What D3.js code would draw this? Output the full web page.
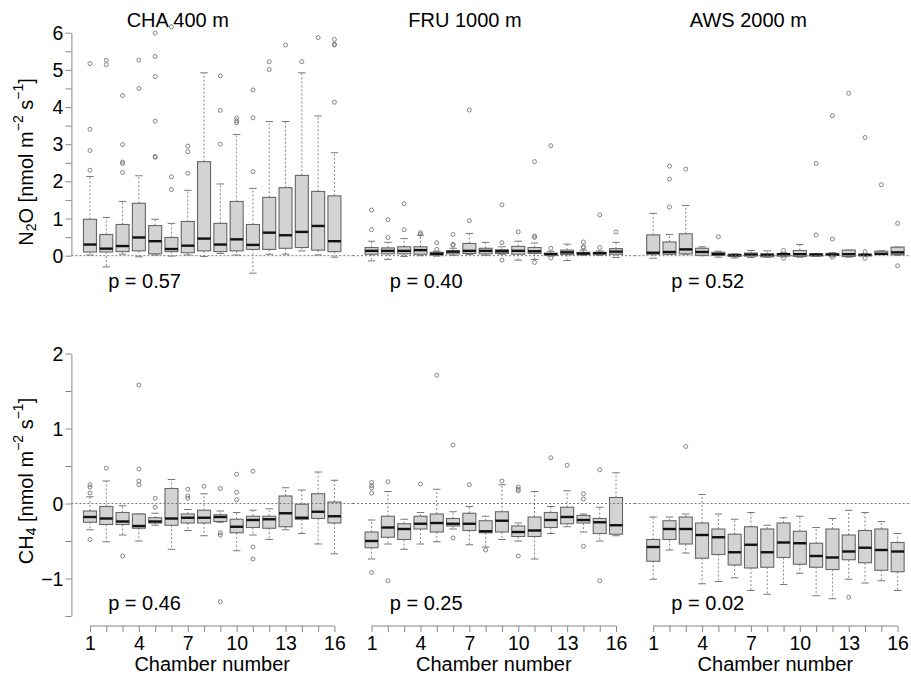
<!DOCTYPE html>
<html>
<head>
<meta charset="utf-8">
<script src="https://cdn.jsdelivr.net/npm/d3@7"></script>
<style>
  body { margin: 0; background: #fff; }
  text { font-family: "Liberation Sans", Arial, sans-serif; }
</style>
</head>
<body>
<svg id="chart"></svg>
<script>
// chamber numbers and labels
const chambers = d3.range(1, 17);
const xTickLabels = [1, 4, 7, 10, 13, 16];
const sites = ["CHA 400 m", "FRU 1000 m", "AWS 2000 m"];
const pN2O = ["p = 0.57", "p = 0.40", "p = 0.52"];
const pCH4 = ["p = 0.46", "p = 0.25", "p = 0.02"];
const n2oTicks = d3.range(0, 6.01, 0.5);
const ch4Ticks = d3.range(-1.5, 2.01, 0.5);

// box stats per chamber: [lower whisker, q1, median, q3, upper whisker]
const chaN2O = [
  [0.02, 0.10, 0.30, 0.98, 2.13], [-0.30, 0.10, 0.19, 0.57, 1.03], [0.04, 0.11, 0.26, 0.84, 1.46],
  [-0.03, 0.13, 0.49, 1.41, 2.15], [0.02, 0.05, 0.39, 0.81, 0.98], [-0.01, 0.11, 0.18, 0.49, 0.87],
  [0.02, 0.08, 0.27, 0.92, 1.76], [-0.02, 0.13, 0.46, 2.53, 4.92], [0.06, 0.11, 0.30, 0.87, 1.93],
  [0.02, 0.13, 0.44, 1.46, 3.26], [-0.47, 0.17, 0.29, 0.84, 1.81], [0.04, 0.17, 0.62, 1.57, 3.61],
  [0.04, 0.20, 0.55, 1.83, 3.61], [0.13, 0.22, 0.64, 2.16, 4.92], [0.02, 0.15, 0.80, 1.73, 3.76],
  [-0.04, 0.11, 0.39, 1.61, 2.77]
];
const chaN2OOut = [
  [2.30, 2.83, 3.40, 5.17], [5.14, 5.26], [2.24, 2.48, 2.52, 2.99, 4.31], [4.50, 5.26],
  [2.65, 2.67, 3.62, 4.82, 5.36, 5.99], [1.78, 2.12, 6.16], [2.22, 2.80, 2.95], [],
  [3.00, 3.91, 4.84], [3.58, 3.63, 3.70], [2.26, 3.71, 4.46], [5.01, 5.22],
  [5.67], [5.22], [5.87], [4.13, 5.67, 5.69, 5.82]
];

const fruN2O = [
  [-0.14, 0.04, 0.13, 0.22, 0.39], [-0.10, 0.05, 0.13, 0.21, 0.36], [-0.02, 0.05, 0.13, 0.24, 0.46],
  [0.00, 0.04, 0.15, 0.24, 0.55], [-0.01, 0.02, 0.05, 0.09, 0.12], [0.01, 0.05, 0.11, 0.13, 0.20],
  [0.03, 0.06, 0.13, 0.33, 0.60], [0.01, 0.05, 0.13, 0.20, 0.36], [0.04, 0.06, 0.12, 0.16, 0.24],
  [-0.12, 0.04, 0.13, 0.25, 0.39], [-0.10, 0.06, 0.12, 0.22, 0.34], [-0.01, 0.02, 0.04, 0.07, 0.12],
  [-0.13, 0.03, 0.09, 0.15, 0.31], [0.01, 0.03, 0.06, 0.09, 0.15], [0.01, 0.04, 0.07, 0.09, 0.13],
  [-0.05, 0.04, 0.11, 0.19, 0.36]
];
const fruN2OOut = [
  [0.70, 1.23], [0.49, 0.97], [0.70, 1.40], [0.58, 0.62], [0.17, 0.35], [0.28, 0.31, 0.57],
  [0.94, 3.92], [], [-0.12, 0.35, 1.37], [0.64], [-0.18, 0.49, 0.53, 2.53], [-0.06, 0.20, 2.96],
  [], [0.22, 0.24, 0.37], [0.22, 1.10], [0.64]
];

const awsN2O = [
  [-0.07, 0.04, 0.08, 0.56, 1.14], [0.04, 0.04, 0.10, 0.37, 0.57], [0.04, 0.05, 0.17, 0.59, 1.35],
  [0.00, 0.01, 0.10, 0.20, 0.24], [-0.04, 0.01, 0.04, 0.09, 0.12], [-0.06, -0.01, 0.01, 0.04, 0.05],
  [-0.05, -0.01, 0.03, 0.07, 0.14], [-0.04, -0.03, 0.02, 0.05, 0.13], [-0.03, -0.01, 0.04, 0.05, 0.08],
  [-0.04, -0.02, 0.04, 0.14, 0.30], [-0.02, -0.01, 0.03, 0.05, 0.06], [-0.03, 0.01, 0.03, 0.06, 0.08],
  [-0.04, -0.02, 0.04, 0.15, 0.15], [0.00, 0.00, 0.02, 0.04, 0.06], [0.03, 0.04, 0.05, 0.12, 0.13],
  [0.01, 0.03, 0.09, 0.23, 0.23]
];
const awsN2OOut = [
  [], [1.31, 2.06, 2.41], [2.33], [], [0.51], [], [], [], [-0.07, 0.14], [],
  [0.56, 2.48], [-0.04, 0.45, 3.77], [4.37], [-0.07, 0.11, 3.18], [1.91], [-0.27, 0.87]
];

const chaCH4 = [
  [-0.35, -0.25, -0.18, -0.10, 0.09], [-0.51, -0.28, -0.20, -0.04, 0.30], [-0.42, -0.28, -0.24, -0.12, -0.03],
  [-0.50, -0.33, -0.30, -0.14, -0.14], [-0.29, -0.26, -0.24, -0.19, -0.13], [-0.61, -0.29, -0.20, 0.20, 0.32],
  [-0.36, -0.26, -0.19, -0.14, -0.08], [-0.43, -0.26, -0.19, -0.09, 0.13], [-0.25, -0.24, -0.18, -0.15, -0.10],
  [-0.63, -0.39, -0.31, -0.21, -0.12], [-0.42, -0.32, -0.22, -0.17, -0.09], [-0.48, -0.33, -0.21, -0.17, -0.07],
  [-0.35, -0.31, -0.13, 0.10, 0.21], [-0.40, -0.21, -0.19, -0.01, 0.18], [-0.54, -0.20, -0.11, 0.13, 0.42],
  [-0.67, -0.26, -0.17, 0.02, 0.31]
];
const chaCH4Out = [
  [-0.48, 0.14, 0.22, 0.25], [0.47], [-0.70], [0.25, 0.30, 0.46, 1.58], [-0.05, 0.07], [],
  [0.07, 0.10, 0.19], [0.23], [-1.31, -0.42, -0.39, 0.20], [0.05, 0.15, 0.39],
  [-0.74, -0.58, 0.43], [], [], [], [], []
];

const fruCH4 = [
  [-0.74, -0.59, -0.50, -0.38, -0.22], [-0.54, -0.45, -0.32, -0.17, 0.16], [-0.61, -0.48, -0.34, -0.27, -0.21],
  [-0.54, -0.34, -0.27, -0.17, -0.12], [-0.51, -0.38, -0.26, -0.14, 0.19], [-0.34, -0.30, -0.27, -0.20, -0.11],
  [-0.55, -0.36, -0.27, -0.13, -0.04], [-0.58, -0.39, -0.37, -0.23, -0.17], [-0.48, -0.38, -0.23, -0.11, 0.25],
  [-0.50, -0.44, -0.38, -0.30, -0.26], [-0.74, -0.44, -0.36, -0.18, 0.16], [-0.40, -0.32, -0.22, -0.12, -0.04],
  [-0.31, -0.27, -0.18, -0.05, 0.17], [-0.38, -0.26, -0.22, -0.16, -0.14], [-0.50, -0.40, -0.25, -0.20, -0.05],
  [-0.43, -0.41, -0.29, 0.08, 0.41]
];
const fruCH4Out = [
  [-0.92, 0.14, 0.21, 0.24, 0.28], [-1.03, 0.29], [], [0.26], [1.71], [-0.46, 0.78], [0.25], [-0.62],
  [0.30], [-0.70, 0.17, 0.19, 0.22], [], [0.61], [0.51], [-0.57, 0.06, 0.13], [-1.03, 0.45], []
];

const awsCH4 = [
  [-1.01, -0.77, -0.58, -0.48, -0.18], [-0.62, -0.48, -0.34, -0.23, -0.18], [-0.66, -0.54, -0.34, -0.18, -0.14],
  [-1.07, -0.73, -0.42, -0.26, 0.12], [-1.04, -0.68, -0.45, -0.34, -0.14], [-0.99, -0.82, -0.65, -0.41, -0.21],
  [-1.16, -0.86, -0.55, -0.31, -0.12], [-1.21, -0.85, -0.65, -0.34, -0.29], [-1.08, -0.72, -0.52, -0.26, -0.19],
  [-0.93, -0.81, -0.53, -0.37, -0.17], [-1.23, -0.85, -0.70, -0.53, -0.32], [-1.27, -0.88, -0.72, -0.34, -0.20],
  [-1.01, -0.75, -0.64, -0.42, -0.09], [-1.06, -0.79, -0.59, -0.36, -0.12], [-1.03, -0.89, -0.62, -0.34, -0.24],
  [-1.16, -0.91, -0.64, -0.52, -0.40]
];
const awsCH4Out = [
  [], [], [0.76], [], [], [], [], [], [], [], [], [], [-1.25], [], [], []
];

const WIDTH = 911, HEIGHT = 674;
const panelLeft = [71.4, 353, 634.6];
const panelW = 281.6;
const FONT = "'Liberation Sans', Arial, sans-serif";

const svg = d3.select("#chart").attr("width", WIDTH).attr("height", HEIGHT);

const rows = [
  { boxes: [chaN2O, fruN2O, awsN2O], outs: [chaN2OOut, fruN2OOut, awsN2OOut], p: pN2O,
    y: d3.scaleLinear().domain([0, 6]).range([255.7, 32.7]), ticks: n2oTicks,
    pY: -0.69, labelY: 162, gas: "N", sub: "2", gas2: "O", xAxis: false },
  { boxes: [chaCH4, fruCH4, awsCH4], outs: [chaCH4Out, fruCH4Out, awsCH4Out], p: pCH4,
    y: d3.scaleLinear().domain([-1.5, 2]).range([616, 353.5]), ticks: ch4Ticks,
    pY: -1.33, labelY: 481, gas: "CH", sub: "4", gas2: "", xAxis: true }
];

const boxW = 13, capW = 7.5;

rows.forEach((row, r) => {
  const y = row.y;
  sites.forEach((site, c) => {
    const x = d3.scaleLinear().domain([-0.14, 17.14]).range([panelLeft[c], panelLeft[c] + panelW]);
    const g = svg.append("g");

    const box = g.selectAll("g.box")
      .data(row.boxes[c].map((s, i) => ({ ch: chambers[i], s, out: row.outs[c][i] })))
      .join("g").attr("class", "box");

    // whiskers
    box.append("line")
      .attr("x1", d => x(d.ch)).attr("x2", d => x(d.ch))
      .attr("y1", d => y(d.s[3])).attr("y2", d => y(d.s[4]))
      .attr("stroke", "#888").attr("stroke-dasharray", "2,2");
    box.append("line")
      .attr("x1", d => x(d.ch)).attr("x2", d => x(d.ch))
      .attr("y1", d => y(d.s[1])).attr("y2", d => y(d.s[0]))
      .attr("stroke", "#888").attr("stroke-dasharray", "2,2");
    // caps
    [0, 4].forEach(k => {
      box.append("line")
        .attr("x1", d => x(d.ch) - capW / 2).attr("x2", d => x(d.ch) + capW / 2)
        .attr("y1", d => y(d.s[k])).attr("y2", d => y(d.s[k]))
        .attr("stroke", "#777");
    });
    // box
    box.append("rect")
      .attr("x", d => x(d.ch) - boxW / 2).attr("width", boxW)
      .attr("y", d => y(d.s[3])).attr("height", d => Math.max(0.5, y(d.s[1]) - y(d.s[3])))
      .attr("fill", "#d3d3d3").attr("stroke", "#666").attr("stroke-width", 1.1);
    // median
    box.append("line")
      .attr("x1", d => x(d.ch) - boxW / 2).attr("x2", d => x(d.ch) + boxW / 2)
      .attr("y1", d => y(d.s[2])).attr("y2", d => y(d.s[2]))
      .attr("stroke", "#111").attr("stroke-width", 2.4);
    // outliers
    box.selectAll("circle")
      .data(d => d.out.map(v => ({ ch: d.ch, v })))
      .join("circle")
      .attr("cx", d => x(d.ch)).attr("cy", d => y(d.v)).attr("r", 2)
      .attr("fill", "none").attr("stroke", "#777").attr("stroke-width", 0.9);

    // zero reference line
    g.append("line")
      .attr("x1", panelLeft[c]).attr("x2", Math.min(WIDTH, panelLeft[c] + panelW))
      .attr("y1", y(0)).attr("y2", y(0))
      .attr("stroke", "#777").attr("stroke-dasharray", "2,2");

    // p value
    g.append("text")
      .attr("x", x(4.35)).attr("y", y(row.pY))
      .attr("text-anchor", "middle").attr("dominant-baseline", "central")
      .attr("font-size", 20).text(row.p[c]);

    if (r === 0) {
      g.append("text")
        .attr("x", x(3.25)).attr("y", 26.5)
        .attr("font-size", 20).text(site);
    }

    if (row.xAxis) {
      const ax = g.append("g")
        .attr("transform", `translate(0, 626)`)
        .call(d3.axisBottom(x).tickValues(chambers).tickSize(6).tickPadding(4).tickSizeOuter(0)
          .tickFormat(d => xTickLabels.includes(d) ? d : ""));
      ax.select(".domain").attr("d", `M${x(1)},0H${x(16)}`);
      ax.selectAll("line, path").attr("stroke", "#888");
      ax.selectAll("text").attr("font-size", 19.5).attr("fill", "#000").attr("font-family", FONT);
      g.append("text")
        .attr("x", x(8.5)).attr("y", 671)
        .attr("text-anchor", "middle").attr("font-size", 20)
        .text("Chamber number");
    }
  });

  // y axis on left panel (line and ticks from d3, labels placed next to the ticks)
  const ay = svg.append("g")
    .attr("transform", `translate(${panelLeft[0]}, 0)`)
    .call(d3.axisLeft(y).tickValues(row.ticks).tickSize(6).tickSizeOuter(0).tickFormat(""));
  ay.selectAll("line, path").attr("stroke", "#888");

  svg.append("g").selectAll("text")
    .data(row.ticks.filter(Number.isInteger))
    .join("text")
    .attr("x", panelLeft[0] - 8).attr("y", d => y(d))
    .attr("text-anchor", "end").attr("dominant-baseline", "central")
    .attr("font-size", 19.5)
    .text(d => d < 0 ? "\u2212" + Math.abs(d) : d);

  // y label
  const lab = svg.append("text")
    .attr("transform", `translate(26, ${row.labelY}) rotate(-90)`)
    .attr("text-anchor", "middle").attr("dominant-baseline", "central")
    .attr("font-size", 20);
  lab.append("tspan").text(row.gas);
  lab.append("tspan").attr("font-size", 14).attr("dy", 5).text(row.sub);
  lab.append("tspan").attr("dy", -5).text(row.gas2 + " [nmol m");
  lab.append("tspan").attr("font-size", 14).attr("dy", -8).text("\u22122");
  lab.append("tspan").attr("dy", 8).text(" s");
  lab.append("tspan").attr("font-size", 14).attr("dy", -8).text("\u22121");
  lab.append("tspan").attr("dy", 8).text("]");
});
</script>
</body>
</html>
